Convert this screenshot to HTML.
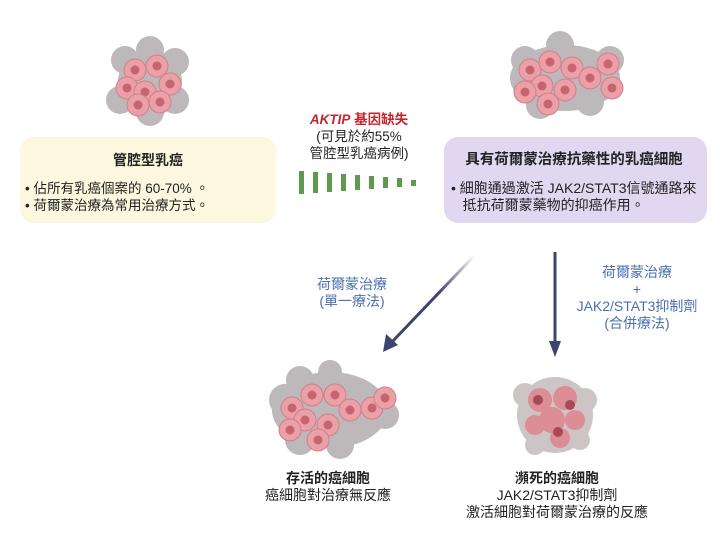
<!DOCTYPE html>
<html><head><meta charset="utf-8"><style>
body{margin:0;width:720px;height:540px;background:#fff;position:relative;overflow:hidden;font-family:"Liberation Sans","Noto Sans CJK TC",sans-serif;color:#222}
.box{position:absolute;border-radius:14px}
.t{position:absolute;white-space:nowrap;font-size:13.5px;line-height:17px}
.c{text-align:center;transform:translateX(-50%)}
.b{color:#4a70b0}
</style></head><body>
<div class="box" style="left:20px;top:137px;width:256px;height:86px;background:#fbf8df"></div>
<div class="box" style="left:444px;top:137px;width:263px;height:86px;background:#e2d7f0"></div>
<div class="t c" style="left:148px;top:152px;font-weight:bold;font-size:14px">管腔型乳癌</div>
<div class="t" style="left:25px;top:180px">• 佔所有乳癌個案的 60-70% 。<br>• 荷爾蒙治療為常用治療方式。</div>
<div class="t c" style="left:574px;top:152px;font-weight:bold;font-size:14.5px">具有荷爾蒙治療抗藥性的乳癌細胞</div>
<div class="t" style="left:451px;top:180px;font-size:14px">• 細胞通過激活 JAK2/STAT3信號通路來<br>&nbsp;&nbsp;&nbsp;抵抗荷爾蒙藥物的抑癌作用。</div>
<div class="t c" style="left:359px;top:111px;line-height:17px;font-size:13.5px"><span style="color:#c0282d;font-weight:bold"><i>AKTIP</i> 基因缺失</span><br>(可見於約55%<br>管腔型乳癌病例)</div>
<svg width="720" height="540" style="position:absolute;left:0;top:0" xmlns:xlink="http://www.w3.org/1999/xlink">
<defs><linearGradient id="g" x1="475" y1="255" x2="385" y2="350" gradientUnits="userSpaceOnUse"><stop offset="0" stop-color="#3c4470" stop-opacity="0"/><stop offset="0.4" stop-color="#3c4470"/></linearGradient>
<g id="cell"><circle r="11" fill="#eaa0a6" stroke="#cf8088"/><circle r="4.5" fill="#c86470"/></g>
</defs>
<g fill="#5e9a4e">
<rect x="299" y="171" width="5" height="23"/><rect x="313" y="172" width="5" height="21"/><rect x="327" y="173" width="5" height="19"/><rect x="341" y="174" width="5" height="17"/><rect x="355" y="175" width="5" height="15"/><rect x="369" y="176" width="5" height="13"/><rect x="383" y="177" width="5" height="11"/><rect x="397" y="178" width="5" height="9"/><rect x="411" y="180" width="5" height="6"/>
</g>
<line x1="475" y1="255" x2="391" y2="343" stroke="url(#g)" stroke-width="3"/>
<polygon points="383,352 386,334 398,345" fill="#3c4470"/>
<line x1="555" y1="252" x2="555" y2="343" stroke="#3c4470" stroke-width="3"/>
<polygon points="555,357 549,341 561,341" fill="#3c4470"/>
<g fill="#bdb8ba"><circle cx="125" cy="60" r="14"/><circle cx="175" cy="62" r="14"/><circle cx="120" cy="100" r="14"/><circle cx="175" cy="100" r="14"/><circle cx="150" cy="50" r="14"/><circle cx="150" cy="112" r="14"/><circle cx="150" cy="82" r="32"/></g>
<use href="#cell" xlink:href="#cell" x="135" y="70"/><use href="#cell" xlink:href="#cell" x="157" y="66"/><use href="#cell" xlink:href="#cell" x="170" y="84"/><use href="#cell" xlink:href="#cell" x="127" y="88"/><use href="#cell" xlink:href="#cell" x="145" y="92"/><use href="#cell" xlink:href="#cell" x="160" y="102"/><use href="#cell" xlink:href="#cell" x="138" y="105"/>
<g fill="#bdb8ba"><ellipse cx="565" cy="78" rx="55" ry="33"/><circle cx="525" cy="60" r="14"/><circle cx="610" cy="60" r="14"/><circle cx="540" cy="105" r="14"/><circle cx="590" cy="102" r="14"/><circle cx="560" cy="45" r="14"/></g>
<use href="#cell" xlink:href="#cell" x="530" y="70"/><use href="#cell" xlink:href="#cell" x="550" y="62"/><use href="#cell" xlink:href="#cell" x="572" y="68"/><use href="#cell" xlink:href="#cell" x="542" y="86"/><use href="#cell" xlink:href="#cell" x="565" y="90"/><use href="#cell" xlink:href="#cell" x="590" y="78"/><use href="#cell" xlink:href="#cell" x="608" y="64"/><use href="#cell" xlink:href="#cell" x="525" y="92"/><use href="#cell" xlink:href="#cell" x="548" y="104"/><use href="#cell" xlink:href="#cell" x="612" y="88"/>
<g fill="#bdb8ba"><ellipse cx="330" cy="410" rx="58" ry="38"/><circle cx="285" cy="400" r="16"/><circle cx="300" cy="380" r="14"/><circle cx="330" cy="372" r="12"/><circle cx="300" cy="440" r="15"/><circle cx="340" cy="445" r="14"/><circle cx="385" cy="415" r="14"/></g>
<use href="#cell" xlink:href="#cell" x="292" y="408"/><use href="#cell" xlink:href="#cell" x="312" y="395"/><use href="#cell" xlink:href="#cell" x="335" y="395"/><use href="#cell" xlink:href="#cell" x="305" y="420"/><use href="#cell" xlink:href="#cell" x="328" y="425"/><use href="#cell" xlink:href="#cell" x="350" y="410"/><use href="#cell" xlink:href="#cell" x="372" y="408"/><use href="#cell" xlink:href="#cell" x="385" y="398"/><use href="#cell" xlink:href="#cell" x="290" y="430"/><use href="#cell" xlink:href="#cell" x="318" y="440"/>
<g fill="#cdc4c6"><circle cx="555" cy="415" r="38"/><circle cx="525" cy="395" r="12"/><circle cx="585" cy="400" r="12"/><circle cx="535" cy="445" r="10"/><circle cx="580" cy="440" r="10"/></g>
<g fill="#dc8d95"><circle cx="540" cy="400" r="12"/><circle cx="565" cy="398" r="12"/><circle cx="552" cy="420" r="13"/><circle cx="575" cy="420" r="10"/><circle cx="535" cy="425" r="10"/><circle cx="560" cy="438" r="10"/></g>
<g fill="#a84a55"><circle cx="538" cy="400" r="5"/><circle cx="570" cy="405" r="5"/><circle cx="558" cy="432" r="5"/></g>
</svg>
<div class="t c b" style="left:352px;top:276px;font-size:14px">荷爾蒙治療<br>(單一療法)</div>
<div class="t c b" style="left:637px;top:264px;font-size:14px">荷爾蒙治療<br>+<br>JAK2/STAT3抑制劑<br>(合併療法)</div>
<div class="t c" style="left:328px;top:470px;font-size:14px"><b>存活的癌細胞</b><br>癌細胞對治療無反應</div>
<div class="t c" style="left:557px;top:470px;font-size:14px"><b>瀕死的癌細胞</b><br>JAK2/STAT3抑制劑<br>激活細胞對荷爾蒙治療的反應</div>
</body></html>
